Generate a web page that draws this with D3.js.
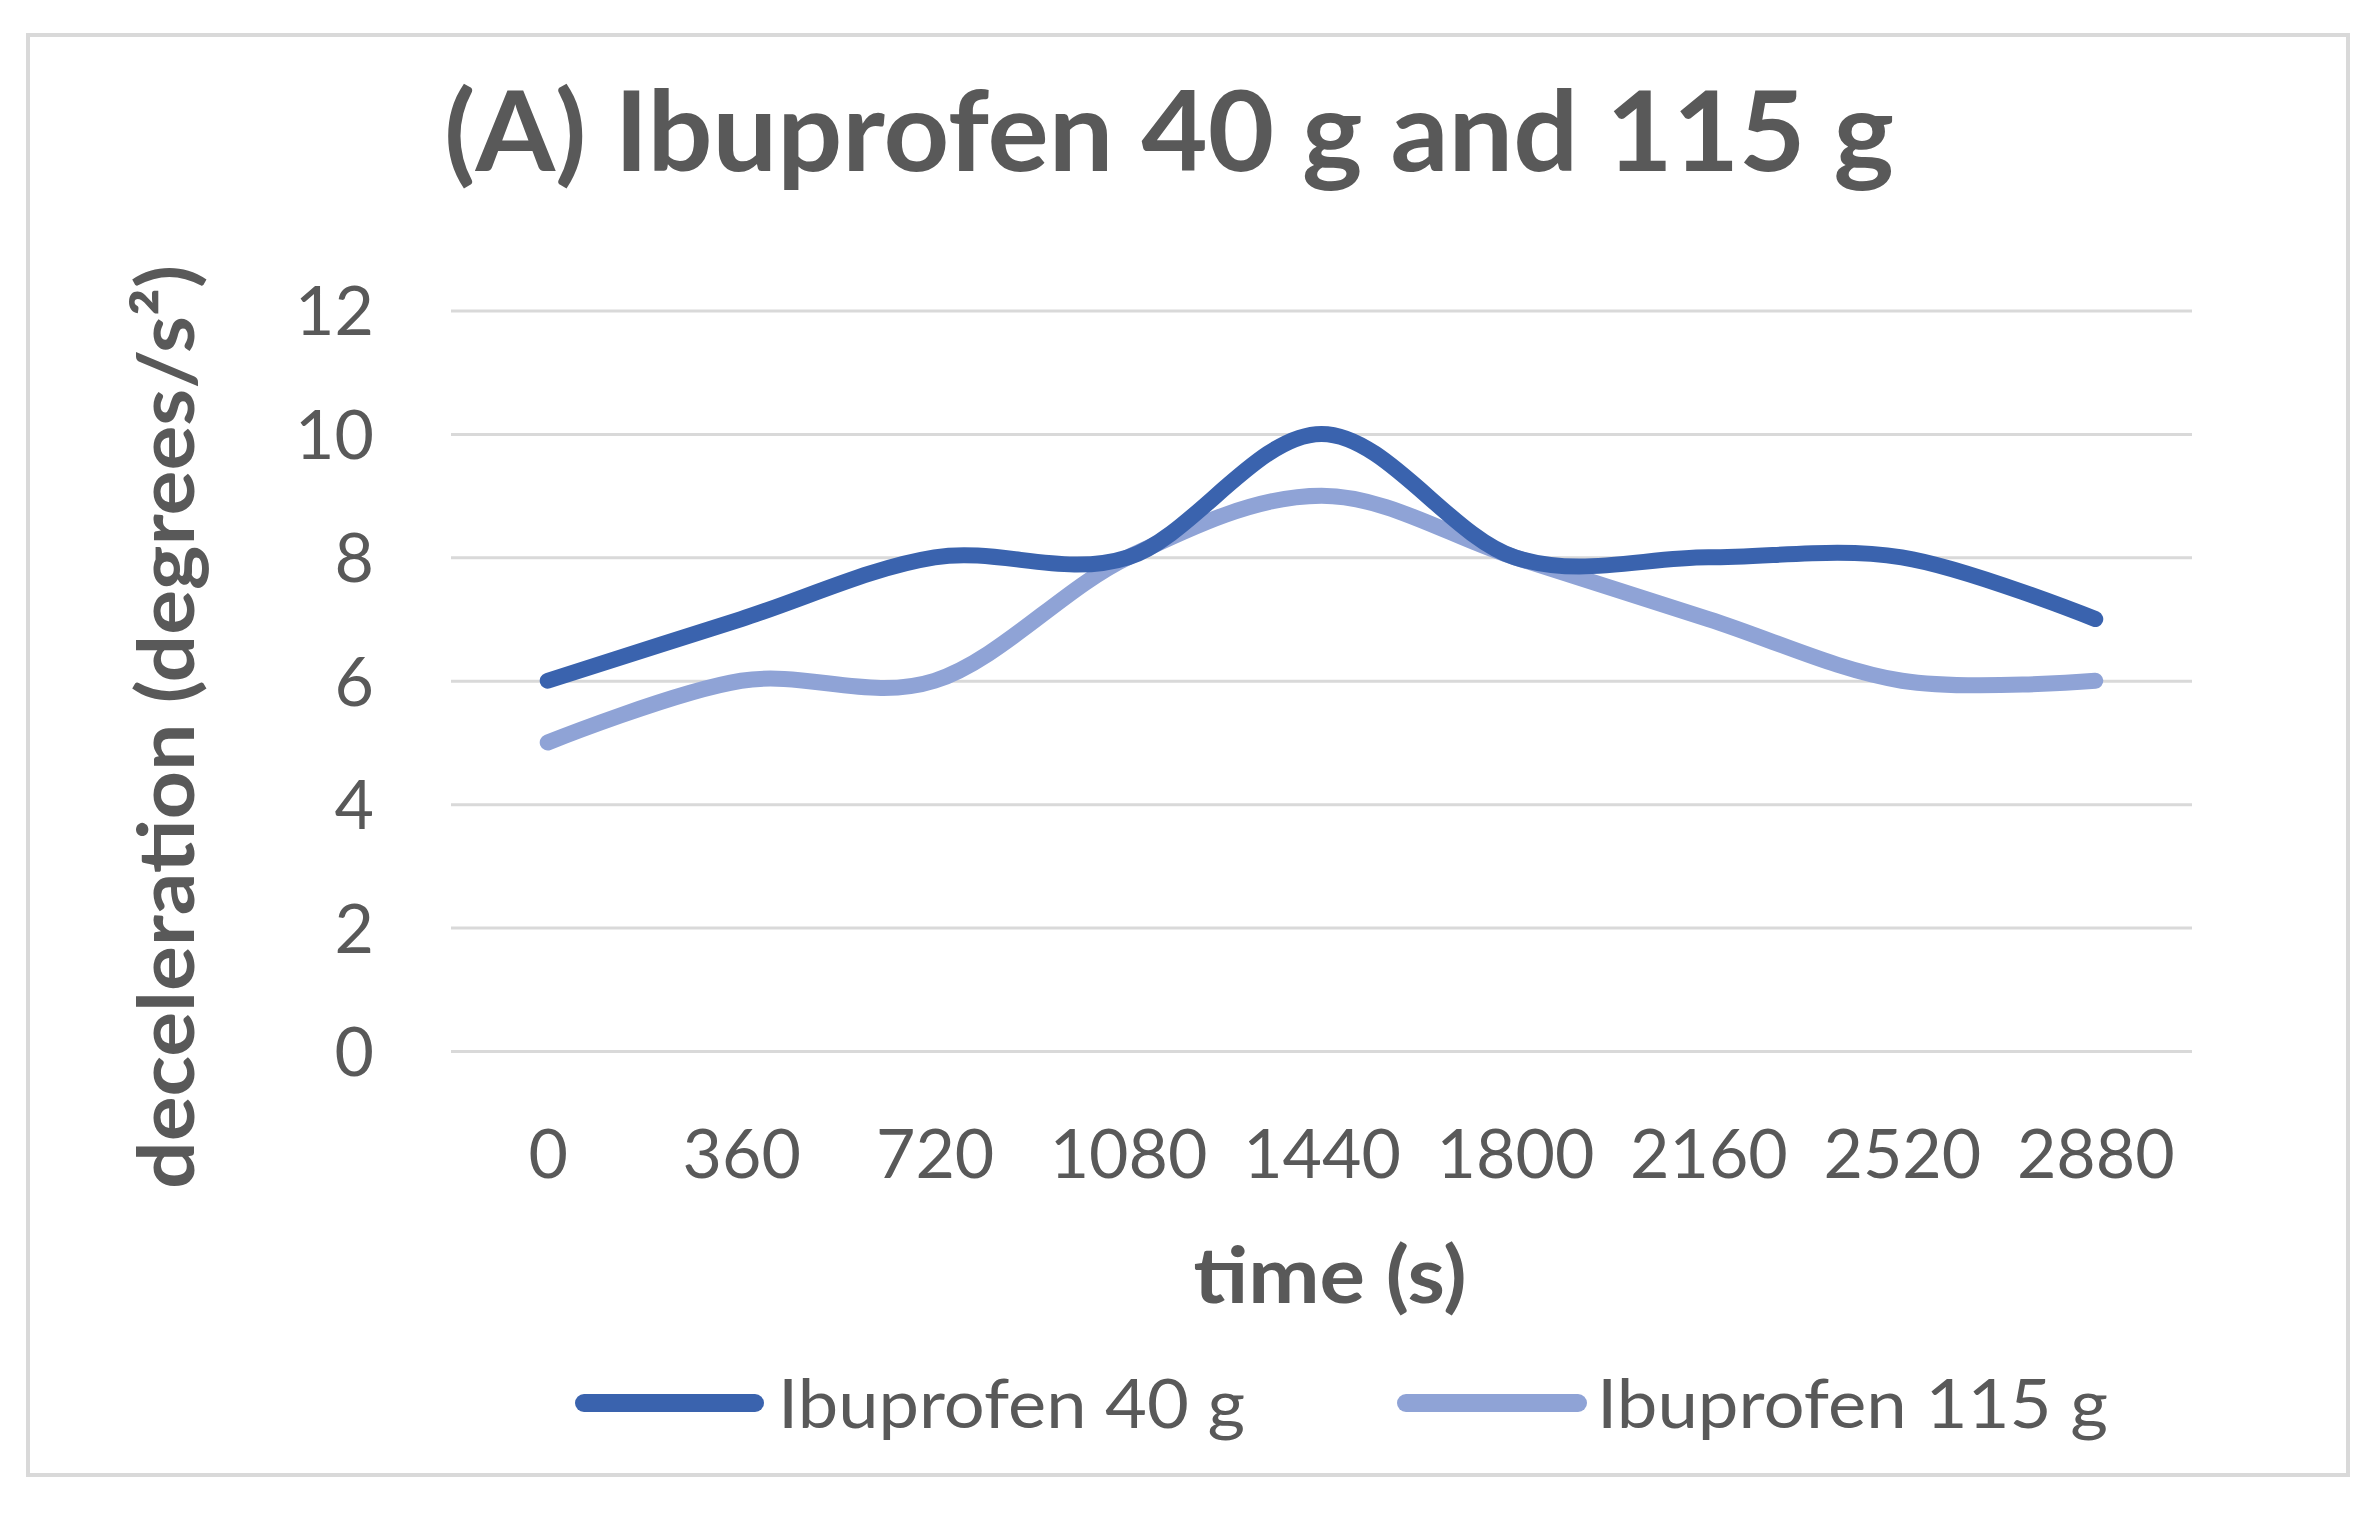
<!DOCTYPE html>
<html>
<head>
<meta charset="utf-8">
<script src="https://cdn.jsdelivr.net/npm/d3@7"></script>
<style>
  html, body { margin: 0; padding: 0; background: #ffffff; }
  svg { display: block; }
</style>
</head>
<body>
<svg id="chart" width="2375" height="1517"></svg>
<script>
// ---- data ----
const categories = ["0", "360", "720", "1080", "1440", "1800", "2160", "2520", "2880"];
const ibuprofen40 = [6, 7, 8, 8, 10, 8, 8, 8, 7];
const ibuprofen115 = [5, 6, 6, 8, 9, 8, 7, 6, 6];
const yTicks = [0, 2, 4, 6, 8, 10, 12];
const seriesNames = ["Ibuprofen 40 g", "Ibuprofen 115 g"];
const titleText = "(A) Ibuprofen 40 g and 115 g";
const xTitle = "time (s)";
const yTitle = "deceleration (degrees/s²)";

// ---- layout ----
const W = 2375, H = 1517;
const FONT = "Lato, 'Open Sans', 'Liberation Sans', sans-serif";
const TXT = "#595959";
const colors = ["#3A63AE", "#8FA3D6"];
const plot = { left: 451, right: 2192, top: 310.5, bottom: 1051 };

const svg = d3.select("#chart");
svg.append("rect").attr("x", 0).attr("y", 0).attr("width", W).attr("height", H).attr("fill", "#fff");

// chart border
svg.append("rect")
  .attr("x", 28).attr("y", 35).attr("width", 2320).attr("height", 1440)
  .attr("fill", "#fff").attr("stroke", "#d9d9d9").attr("stroke-width", 4);

const x = d3.scalePoint().domain(categories).range([plot.left, plot.right]).padding(0.5);
const y = d3.scaleLinear().domain([0, 12]).range([plot.bottom, plot.top]);

// gridlines via axis
const yGrid = svg.append("g")
  .attr("transform", `translate(${plot.left},0)`)
  .call(d3.axisLeft(y).tickValues(yTicks).tickSize(-(plot.right - plot.left)).tickFormat(""));
yGrid.select(".domain").remove();
yGrid.selectAll(".tick line").attr("stroke", "#d9d9d9").attr("stroke-width", 3);

// y tick labels
const yAxis = svg.append("g")
  .attr("transform", `translate(${374},0)`)
  .call(d3.axisLeft(y).tickValues(yTicks).tickSize(0).tickPadding(0));
yAxis.select(".domain").remove();
yAxis.selectAll(".tick text")
  .attr("font-family", FONT).attr("font-size", 68).attr("fill", TXT)
  .attr("dy", "0.36em").attr("text-anchor", "end");

// x tick labels
const xAxis = svg.append("g")
  .attr("transform", `translate(0,${plot.bottom})`)
  .call(d3.axisBottom(x).tickSize(0).tickPadding(0));
xAxis.select(".domain").remove();
xAxis.selectAll(".tick text")
  .attr("font-family", FONT).attr("font-size", 68).attr("fill", TXT)
  .attr("dy", null).attr("y", 127).attr("text-anchor", "middle");

// lines
const line = d3.line()
  .x((d, i) => x(categories[i]))
  .y(d => y(d))
  .curve(d3.curveCardinal.tension(0));

[ibuprofen115, ibuprofen40].forEach((s, k) => {
  const idx = k === 0 ? 1 : 0;
  svg.append("path")
    .datum(s)
    .attr("d", line)
    .attr("fill", "none")
    .attr("stroke", colors[idx])
    .attr("stroke-width", 16)
    .attr("stroke-linecap", "round")
    .attr("stroke-linejoin", "round");
});

// title
svg.append("text")
  .attr("x", 1169).attr("y", 171)
  .attr("text-anchor", "middle")
  .attr("font-family", FONT).attr("font-weight", "bold")
  .attr("font-size", 112).attr("fill", TXT)
  .attr("textLength", 1450).attr("lengthAdjust", "spacingAndGlyphs")
  .text(titleText);

// x title
svg.append("text")
  .attr("x", 1330).attr("y", 1303)
  .attr("text-anchor", "middle")
  .attr("font-family", FONT).attr("font-weight", "bold")
  .attr("font-size", 78).attr("fill", TXT)
  .attr("textLength", 273).attr("lengthAdjust", "spacingAndGlyphs")
  .text(xTitle);

// y title
svg.append("text")
  .attr("transform", `translate(194,727) rotate(-90)`)
  .attr("text-anchor", "middle")
  .attr("font-family", FONT).attr("font-weight", "bold")
  .attr("font-size", 78).attr("fill", TXT)
  .attr("textLength", 924).attr("lengthAdjust", "spacingAndGlyphs")
  .text(yTitle);

// legend
const legendItems = [
  { name: seriesNames[0], color: colors[0], x1: 584, x2: 755, tx: 778, tw: 467 },
  { name: seriesNames[1], color: colors[1], x1: 1406, x2: 1578, tx: 1597, tw: 511 }
];
const lg = svg.append("g");
legendItems.forEach(it => {
  lg.append("line")
    .attr("x1", it.x1).attr("x2", it.x2).attr("y1", 1403).attr("y2", 1403)
    .attr("stroke", it.color).attr("stroke-width", 18).attr("stroke-linecap", "round");
  lg.append("text")
    .attr("x", it.tx).attr("y", 1428)
    .attr("font-family", FONT).attr("font-size", 68).attr("fill", TXT)
    .attr("textLength", it.tw).attr("lengthAdjust", "spacingAndGlyphs")
    .text(it.name);
});
</script>
</body>
</html>
